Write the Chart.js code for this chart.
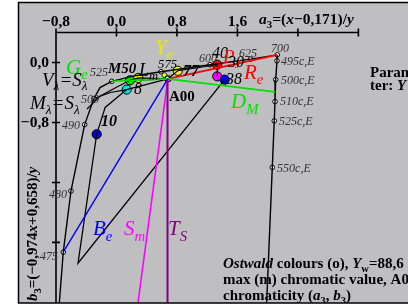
<!DOCTYPE html>
<html><head><meta charset="utf-8">
<script src="https://cdn.jsdelivr.net/npm/chart.js@4"></script>
<style>html,body{margin:0;padding:0;background:#fff}canvas{display:block}</style>
</head><body>
<canvas id="c" width="408" height="308"></canvas>
<script>
// ── data (a3, b3 chromaticity) ─────────────────────────────
const xTicks = [-0.8, 0.0, 0.8, 1.6, 2.4, 3.2];
const yTicks = [0.0, -0.8, -1.6, -2.4];
const xTickLabels = ["\u22120,8", "0,0", "0,8", "1,6", "", ""];
const yTickLabels = ["0,0", "\u22120,8", "", ""];

const A00 = [0.68, -0.218];

const locusA3 = [2.127, 1.775, 1.237, 0.589, 0.245, -0.063, -0.218, -0.298, -0.421, -0.602, -0.704, -0.763];
const locusB3 = [0.102, 0.045, -0.030, -0.123, -0.176, -0.251, -0.335, -0.480, -0.828, -1.714, -2.530, -3.30];
const locusMarked = [0, 1, 2, 3, 5, 7, 8, 9, 10];

const complA3 = [2.127, 2.123, 2.106, 2.097, 2.087, 2.061, 1.983];
const complB3 = [0.102, 0.022, -0.229, -0.521, -0.778, -1.399, -3.30];
const complMarked = [1, 2, 3, 4, 5];

const greenA3 = [-0.063, 0.68, 2.097];
const greenB3 = [-0.251, -0.218, -0.392];
const redA3 = [0.68, 2.127];
const redB3 = [-0.218, 0.102];
const blueA3 = [0.68, -0.704];
const blueB3 = [-0.218, -2.530];
const magA3 = [0.68, 0.272];
const magB3 = [-0.218, -3.30];
const tsA3 = [0.675, 0.675];
const tsB3 = [-0.218, -3.30];

const vA3 = [-0.262, -0.509, 1.431];
const vB3 = [-0.957, -2.676, -0.229];
const vsA3 = [-0.298, -0.080, 0.135, 0.68];
const vsB3 = [-0.480, -0.400, -0.361, -0.218];
const msA3 = [-0.390, -0.220, 0.000, 0.179, 0.68];
const msB3 = [-0.620, -0.450, -0.330, -0.238, -0.218];
const tenA3 = [-0.262, -0.150, 0.135];
const tenB3 = [-0.957, -0.600, -0.361];
const topA3 = [0.179, 0.288, 0.68, 0.810, 1.333];
const topB3 = [-0.238, -0.206, -0.218, -0.110, -0.030];
const rmA3 = [1.333, 1.333];
const rmB3 = [-0.030, -0.185];

const dotsA3 = [0.179, 0.288, 0.810, 0.135, -0.262, 1.333, 1.333, 1.431];
const dotsB3 = [-0.238, -0.206, -0.110, -0.361, -0.957, -0.030, -0.185, -0.229];
const dotsColor = ["#00e000", "#ffff00", "#ffff00", "#00e0e0", "#0000e0", "#ff0000", "#ff00ff", "#0000ff"];
const smallYellow = [0.635, -0.169];

const FONT = '"Liberation Serif", "DejaVu Serif", serif';
const GREY = "#333";
// annotation texts [a3, b3, size, colour, parts]
const notes = [
  [0.694, -0.520, 15, "#000", [["A00", "bold"]]],
  [-0.668, -0.149, 21, "#00e000", [["G", "italic"], ["e", "italic", 1]]],
  [0.509, 0.115, 21, "#e8e800", [["Y", "italic"], ["e", "italic", 1]]],
  [0.298, -0.176, 18, "#000", [["L", "italic"], ["m", "italic", 1], ["575", "italic", 2]]],
  [-0.351, -0.176, 12, GREY, [["525", "italic"]]],
  [-0.112, -0.136, 15, "#000", [["M50", "bold italic"]]],
  [-0.985, -0.308, 19, "#000", [["V", "italic"], ["\u03bb", "italic", 1], ["=S", "italic"], ["\u03bb", "italic", 1]]],
  [-1.144, -0.626, 19, "#000", [["M", "italic"], ["\u03bb", "italic", 1], ["=S", "italic"], ["\u03bb", "italic", 1]]],
  [-0.470, -0.546, 12, GREY, [["500", "italic"]]],
  [-0.721, -0.890, 12, GREY, [["490", "italic"]]],
  [-0.205, -0.851, 16, "#000", [["10", "bold italic"]]],
  [0.231, -0.414, 16, "#000", [["8", "italic"]]],
  [0.880, -0.176, 16, "#000", [["77", "bold italic"]]],
  [1.091, 0.009, 12, GREY, [["600", "italic"]]],
  [1.263, 0.062, 16, "#000", [["40", "italic"]]],
  [1.409, -0.004, 19, "#ff0000", [["P", "italic"], ["J", "italic", 1]]],
  [1.475, -0.057, 16, "#000", [["30", "italic"]]],
  [1.620, 0.075, 12, GREY, [["625", "italic"]]],
  [2.044, 0.142, 12, GREY, [["700", "italic"]]],
  [1.687, -0.216, 21, "#ff0000", [["R", "italic"], ["e", "italic", 1]]],
  [1.448, -0.282, 16, "#000", [["38", "italic"]]],
  [1.515, -0.612, 21, "#00e000", [["D", "italic"], ["M", "italic", 1]]],
  [2.176, -0.030, 12, GREY, [["495c,E", "italic"]]],
  [2.176, -0.282, 12, GREY, [["500c,E", "italic"]]],
  [2.163, -0.573, 12, GREY, [["510c,E", "italic"]]],
  [2.150, -0.837, 12, GREY, [["525c,E", "italic"]]],
  [2.124, -1.459, 12, GREY, [["550c,E", "italic"]]],
  [-0.893, -1.803, 12, GREY, [["480", "italic"]]],
  [-1.012, -2.636, 12, GREY, [["475", "italic"]]],
  [-0.311, -2.306, 21, "#0000ff", [["B", "italic"], ["e", "italic", 1]]],
  [0.099, -2.306, 21, "#ff00ff", [["S", "italic"], ["m", "italic", 1]]],
  [0.681, -2.306, 21, "#800080", [["T", "italic"], ["S", "italic", 1]]],
];

function pts(xs, ys) { return xs.map((x, i) => ({ x: x, y: ys[i] })); }
function line(xs, ys, color, w) {
  return { data: pts(xs, ys), showLine: true, borderColor: color, borderWidth: w || 1.3,
           pointRadius: 0, fill: false, tension: 0 };
}
function markers(xs, ys, idx) {
  const d = idx.map(i => ({ x: xs[i], y: ys[i] }));
  return { data: d, showLine: false, pointRadius: 2.3, pointBackgroundColor: "#fff",
           pointBorderColor: "#000", pointBorderWidth: 1 };
}

function rich(ctx, x, y, size, color, parts) {
  let cx = x;
  ctx.fillStyle = color;
  ctx.textAlign = "left";
  ctx.textBaseline = "alphabetic";
  for (const p of parts) {
    const s = p[2] === 1 ? size * 0.7 : p[2] === 2 ? size * 0.7 : size;
    const dy = p[2] === 1 ? size * 0.25 : p[2] === 2 ? -size * 0.45 : 0;
    ctx.font = (p[1] || "") + " " + s + "px " + FONT;
    ctx.fillText(p[0], cx, y + dy);
    cx += ctx.measureText(p[0]).width;
  }
}

const frame = {
  id: "frame",
  beforeDraw(chart) {
    const ctx = chart.ctx;
    ctx.save();
    ctx.fillStyle = "#fff";
    ctx.fillRect(0, 0, 408, 308);
    ctx.fillStyle = "#bfbfc2";
    ctx.fillRect(18, 2, 390, 301);
    ctx.restore();
  },
  afterDatasetsDraw(chart) {
    const ctx = chart.ctx, xs = chart.scales.x, ys = chart.scales.y;
    ctx.save();
    // axes
    const x0 = xs.getPixelForValue(-0.8), x1 = xs.getPixelForValue(3.2);
    const y0 = ys.getPixelForValue(0.4), y1 = ys.getPixelForValue(-3.2);
    ctx.strokeStyle = "#000";
    ctx.lineWidth = 1.6;
    ctx.beginPath();
    ctx.moveTo(x0, y1); ctx.lineTo(x0, y0); ctx.lineTo(x1, y0);
    xTicks.forEach(v => { const p = xs.getPixelForValue(v); ctx.moveTo(p, y0 - 4); ctx.lineTo(p, y0 + 4); });
    yTicks.forEach(v => { const p = ys.getPixelForValue(v); ctx.moveTo(x0 - 4, p); ctx.lineTo(x0 + 4, p); });
    ctx.stroke();
    ctx.fillStyle = "#000";
    ctx.font = "bold 15.5px " + FONT;
    ctx.textAlign = "center";
    xTicks.forEach((v, i) => ctx.fillText(xTickLabels[i], xs.getPixelForValue(v), y0 - 7));
    ctx.textAlign = "right";
    yTicks.forEach((v, i) => ctx.fillText(yTickLabels[i], x0 - 7, ys.getPixelForValue(v) + 5));
    // axis titles
    rich(ctx, 259, 24, 15.5, "#000", [["a", "bold italic"], ["3", "bold", 1], ["=(", "bold"], ["x", "bold italic"],
      ["\u22120,171)/", "bold"], ["y", "bold italic"]]);
    ctx.save();
    ctx.translate(37, 301);
    ctx.rotate(-Math.PI / 2);
    rich(ctx, 0, 0, 15, "#000", [["b", "bold italic"], ["3", "bold", 1], ["=(\u22120,974", "bold"], ["x", "bold italic"],
      ["+0,658)/", "bold"], ["y", "bold italic"]]);
    ctx.restore();
    // annotations
    notes.forEach(n => rich(ctx, xs.getPixelForValue(n[0]), ys.getPixelForValue(n[1]), n[2], n[3], n[4]));
    rich(ctx, 370, 77, 15, "#000", [["Parameter", "bold"]]);
    rich(ctx, 370, 90, 15, "#000", [["ter: ", "bold"], ["Y", "bold italic"]]);
    rich(ctx, 223, 268, 15, "#000", [["Ostwald", "bold italic"], [" colours (o), ", "bold"], ["Y", "bold italic"],
      ["w", "bold", 1], ["=88,6 ", "bold"]]);
    rich(ctx, 223, 284, 15, "#000", [["max (m) chromatic value, A00", "bold"]]);
    rich(ctx, 223, 300, 15, "#000", [["chromaticity (", "bold"], ["a", "bold italic"], ["3", "bold", 1], [", ", "bold"],
      ["b", "bold italic"], ["3", "bold", 1], [")", "bold"]]);
    // outer frame
    ctx.fillStyle = "#fff";
    ctx.fillRect(0, 303, 408, 5);
    ctx.fillRect(0, 0, 17, 308);
    ctx.strokeStyle = "#000";
    ctx.lineWidth = 1.5;
    ctx.beginPath();
    ctx.moveTo(408, 2.5); ctx.lineTo(18.5, 2.5); ctx.lineTo(18.5, 303); ctx.lineTo(408, 303);
    ctx.stroke();
    ctx.restore();
  }
};

new Chart(document.getElementById("c"), {
  type: "scatter",
  data: {
    datasets: [
      line(tsA3, tsB3, "#800080", 2),
      line(magA3, magB3, "#ff00ff", 1.6),
      line(blueA3, blueB3, "#0000ff", 1.4),
      line(greenA3, greenB3, "#00e000", 1.6),
      line(redA3, redB3, "#ff0000", 1.8),
      line(locusA3, locusB3, "#000", 1.4),
      line(complA3, complB3, "#000", 1.4),
      line(vA3, vB3, "#000", 1.3),
      line(vsA3, vsB3, "#000", 1.2),
      line(msA3, msB3, "#000", 1.2),
      line(tenA3, tenB3, "#000", 1.2),
      line(topA3, topB3, "#000", 1.2),
      line(rmA3, rmB3, "#000", 1.2),
      markers(locusA3, locusB3, locusMarked),
      markers(complA3, complB3, complMarked),
      { data: [{ x: A00[0], y: A00[1] }], showLine: false, pointRadius: 3, pointBackgroundColor: "#fff",
        pointBorderColor: "#000", pointBorderWidth: 1.2 },
      { data: [{ x: smallYellow[0], y: smallYellow[1] }], showLine: false, pointRadius: 2.5,
        pointBackgroundColor: "#ffff00", pointBorderColor: "#000", pointBorderWidth: 0.8 },
      { data: pts(dotsA3, dotsB3), showLine: false, pointRadius: 4.6, pointBackgroundColor: dotsColor,
        pointBorderColor: "#000", pointBorderWidth: 1 },
    ]
  },
  options: {
    responsive: false,
    devicePixelRatio: 1,
    animation: false,
    layout: { padding: { left: 56, top: 32.5, right: 49.6, bottom: 3.3 } },
    plugins: { legend: { display: false }, tooltip: { enabled: false } },
    scales: {
      x: { type: "linear", display: false, min: -0.8, max: 3.2 },
      y: { type: "linear", display: false, min: -3.2, max: 0.4 },
    },
  },
  plugins: [frame],
});
</script>
</body></html>
